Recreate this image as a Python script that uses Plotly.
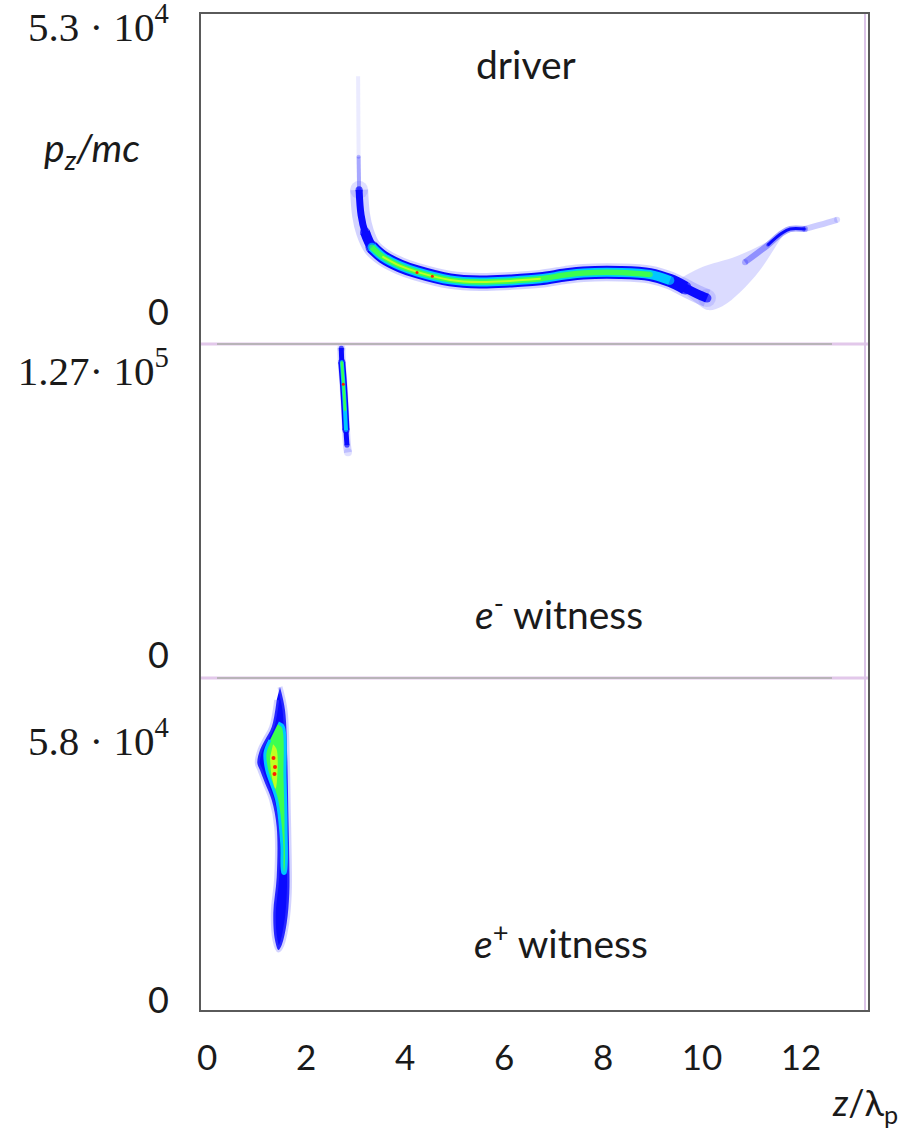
import plotly.graph_objects as go

# ---------------- data ----------------
x_ticks = [0, 2, 4, 6, 8, 10, 12]
x_ticktext = ["0", "2", "4", "6", "8", "10", "12"]

# panel y ticks
top_ticks = [0, 53000]
mid_ticks = [0, 127000]
bot_ticks = [0, 58000]

# driver: ridge of the dense band (z/lambda_p, pz/mc)
driver_z = [3.07, 3.11, 3.19, 3.33, 3.55, 3.90, 4.24, 4.91, 5.51, 6.12, 6.73,
            7.23, 7.60, 8.34, 8.95, 9.35, 9.66, 9.90, 10.10]
driver_pz = [22800, 18100, 14900, 12100, 10300, 8600, 7500, 6000, 5600, 5800, 6200,
             6900, 7300, 7400, 7000, 5900, 4500, 3400, 2600]
# faint vertical spike above the knee
spike_z = [3.05, 3.055, 3.06, 3.07]
spike_pz = [44000, 36000, 29000, 22800]
# diffuse fan behind the dip
fan_z = [9.45, 9.96, 10.71, 11.31, 11.68, 11.52, 11.17, 10.77, 10.41, 10.12, 9.86, 9.56]
fan_pz = [5600, 8200, 10450, 13060, 15100, 12700, 7800, 3700, 1100, 370, 1870, 4100]
# rising tail
rise_z = [10.87, 11.33, 11.61, 11.78, 12.08]
rise_pz = [9300, 12500, 14700, 15500, 15500]
tail_z = [12.08, 12.40, 12.73]
tail_pz = [15500, 16300, 17200]
driver_hot_z = [4.24, 4.55]
driver_hot_pz = [7400, 6700]

# e- witness
em_z = [2.71, 2.72, 2.755, 2.785, 2.805, 2.825, 2.845]
em_pz = [137800, 131500, 121200, 110000, 101000, 94200, 91000]
em_hot_z = [2.75]
em_hot_pz = [121600]

# e+ witness outlines
ep_blue_z = [1.471, 1.572, 1.619, 1.639, 1.659, 1.659, 1.607, 1.506, 1.441, 1.370,
             1.336, 1.405, 1.405, 1.304, 1.168, 1.067, 1.013, 1.067, 1.168, 1.304, 1.405]
ep_blue_pz = [70360, 65190, 53950, 42710, 31470, 24050, 17310, 12360, 11240, 13490,
              19560, 27650, 38890, 44960, 48780, 51700, 53280, 56200, 58450, 61370, 67440]
ep_green_z = [1.437, 1.538, 1.572, 1.593, 1.572, 1.532, 1.506, 1.405, 1.203, 1.168, 1.269]
ep_green_pz = [62270, 61370, 50130, 38890, 28550, 28550, 35290, 44960, 51700, 55520, 58450]
ep_yellow_z = [1.33, 1.40, 1.42, 1.38, 1.30, 1.27]
ep_yellow_pz = [57500, 56500, 51000, 47500, 50500, 54500]
ep_hot_z = [1.34, 1.37, 1.36]
ep_hot_pz = [54400, 52400, 50800]

# ---------------- figure ----------------
SANS = "Lato"
SERIF = "Liberation Serif"
BLUE = "#0a0aff"
HALO = "rgba(110,110,255,0.30)"
CYAN = "#00c8ff"
GREEN = "#3cff50"
YEL = "#c0ff20"
RED = "#ff2000"

fig = go.Figure()


def line(z, pz, color, width, ax, caps=True):
    n = len(z)
    sizes = [0] * n
    if caps:
        sizes[0] = width
        sizes[-1] = width
    fig.add_trace(go.Scatter(x=z, y=pz, mode="lines+markers", xaxis=ax[0], yaxis=ax[1],
                             line=dict(color=color, width=width, shape="spline"),
                             marker=dict(size=sizes, color=color, line=dict(width=0)),
                             hoverinfo="skip", showlegend=False))


def poly(z, pz, fill, ax, lcolor="rgba(0,0,0,0)", lwidth=0):
    fig.add_trace(go.Scatter(x=z, y=pz, mode="lines", fill="toself", fillcolor=fill,
                             xaxis=ax[0], yaxis=ax[1],
                             line=dict(color=lcolor, width=lwidth, shape="spline"),
                             hoverinfo="skip", showlegend=False))


def dots(z, pz, color, size, ax):
    fig.add_trace(go.Scatter(x=z, y=pz, mode="markers", xaxis=ax[0], yaxis=ax[1],
                             marker=dict(color=color, size=size, line=dict(width=0)),
                             hoverinfo="skip", showlegend=False))


TOP = ("x", "y")
MID = ("x2", "y2")
BOT = ("x3", "y3")

# driver
line(spike_z[:3], spike_pz[:3], "rgba(120,120,255,0.15)", 4, TOP, caps=False)
line(spike_z[2:], spike_pz[2:], "rgba(80,80,255,0.5)", 4, TOP)
poly(fan_z, fan_pz, "rgba(110,110,255,0.25)", TOP)
line(tail_z, tail_pz, "rgba(110,110,255,0.35)", 6, TOP)
line(rise_z, rise_pz, "rgba(70,70,255,0.5)", 6, TOP)
line(rise_z[1:], rise_pz[1:], BLUE, 3, TOP)
line(driver_z, driver_pz, HALO, 18, TOP)
line(driver_z[:4], driver_pz[:4], BLUE, 7, TOP)
line(driver_z[2:6], driver_pz[2:6], BLUE, 10, TOP)
line(driver_z[15:], driver_pz[15:], BLUE, 9, TOP)
line(driver_z[3:17], driver_pz[3:17], BLUE, 13, TOP)
line(driver_z[3:16], driver_pz[3:16], CYAN, 9, TOP)
line(driver_z[3:15], driver_pz[3:15], GREEN, 5.5, TOP)
line(driver_z[4:11], driver_pz[4:11], YEL, 2, TOP)
dots(driver_hot_z, driver_hot_pz, RED, 3, TOP)

# e- witness
line(em_z, em_pz, HALO, 8, MID)
line(em_z[:6], em_pz[:6], BLUE, 5, MID)
line(em_z[1:5], em_pz[1:5], BLUE, 7, MID)
line(em_z[1:5], em_pz[1:5], CYAN, 4, MID)
line(em_z[1:4], em_pz[1:4], GREEN, 2.5, MID)
dots(em_hot_z, em_hot_pz, RED, 3, MID)

# e+ witness
poly(ep_blue_z, ep_blue_pz, BLUE, BOT, HALO, 5)
poly(ep_green_z, ep_green_pz, GREEN, BOT, CYAN, 3)
poly(ep_yellow_z, ep_yellow_pz, YEL, BOT)
dots(ep_hot_z, ep_hot_pz, RED, 4, BOT)

# ---------------- layout ----------------
XR = [-0.1455, 13.375]
D_TOP = [0.6683, 1.0]
D_MID = [0.3337, 0.6683]
D_BOT = [0.0, 0.3337]

xcommon = dict(range=XR, showgrid=False, zeroline=False, showline=False,
               tickvals=x_ticks, ticktext=x_ticktext, automargin=False,
               ticklabeloverflow="allow")
ycommon = dict(showgrid=False, zeroline=False, showline=False, ticks="outside",
               ticklen=23, tickcolor="rgba(0,0,0,0)", automargin=False,
               ticklabeloverflow="allow",
               tickfont=dict(family=SANS, size=36, color="#1a1a1a"))


def sci(mant, exp):
    return ('<span style="font-family:\'%s\';font-size:41px">%s10<sup>%d</sup></span>'
            % (SERIF, mant, exp))


fig.update_layout(
    width=905, height=1130, autosize=False,
    margin=dict(l=200, r=36, t=13, b=119, autoexpand=False),
    paper_bgcolor="white", plot_bgcolor="white",
    showlegend=False,
    xaxis=dict(**xcommon, anchor="y", showticklabels=False, ticks=""),
    xaxis2=dict(**xcommon, anchor="y2", showticklabels=False, ticks="", matches="x"),
    xaxis3=dict(**xcommon, anchor="y3", matches="x", ticks="outside", ticklen=16,
                tickcolor="rgba(0,0,0,0)",
                tickfont=dict(family=SANS, size=35, color="#1a1a1a")),
    yaxis=dict(**ycommon, domain=D_TOP, anchor="x", range=[-5970, 55800],
               tickvals=top_ticks, ticktext=["0", sci("5.3 · ", 4)]),
    yaxis2=dict(**ycommon, domain=D_MID, anchor="x2", range=[-10320, 139600],
                tickvals=mid_ticks, ticktext=["0", sci("1.27· ", 5)]),
    yaxis3=dict(**ycommon, domain=D_BOT, anchor="x3", range=[-2470, 72390],
                tickvals=bot_ticks, ticktext=["0", sci("5.8 · ", 4)]),
)


def px_x(p):
    return (p - 200) / 669.0


def px_y(p):
    return (1011 - p) / 998.0


shapes = [
    dict(type="line", xref="paper", yref="paper", x0=0, x1=1, y0=D_TOP[0], y1=D_TOP[0],
         line=dict(color="#e2c8ea", width=3)),
    dict(type="line", xref="paper", yref="paper", x0=0, x1=1, y0=D_MID[0], y1=D_MID[0],
         line=dict(color="#e2c8ea", width=3)),
    dict(type="line", xref="paper", yref="paper", x0=px_x(217), x1=px_x(832),
         y0=D_TOP[0], y1=D_TOP[0], line=dict(color="#b8b4b8", width=2)),
    dict(type="line", xref="paper", yref="paper", x0=px_x(217), x1=px_x(832),
         y0=D_MID[0], y1=D_MID[0], line=dict(color="#b8b4b8", width=2)),
    dict(type="line", xref="paper", yref="paper", x0=px_x(865), x1=px_x(865),
         y0=0, y1=1, line=dict(color="#dcc4e8", width=2)),
    dict(type="rect", xref="paper", yref="paper", x0=0, x1=1, y0=0, y1=1,
         line=dict(color="#5a5a5a", width=2), fillcolor="rgba(0,0,0,0)"),
]
fig.update_layout(shapes=shapes)

ann_font = dict(family=SANS, size=39, color="#1a1a1a")
annotations = [
    dict(text="driver", x=px_x(526), y=px_y(64), xanchor="center"),
    dict(text="<i>e</i><sup>-</sup> witness", x=px_x(559), y=px_y(611), xanchor="center"),
    dict(text="<i>e</i><sup>+</sup> witness", x=px_x(561), y=px_y(940), xanchor="center"),
    dict(text="<i>p<sub>z</sub>/mc</i>", x=px_x(92), y=px_y(150), xanchor="center"),
    dict(text="<i>z</i>/λ<sub>p</sub>", x=px_x(900), y=px_y(1104), xanchor="right",
         font=dict(family=SANS, size=36, color="#1a1a1a")),
]
for a in annotations:
    a.update(xref="paper", yref="paper", showarrow=False, yanchor="middle")
    a.setdefault("font", ann_font)
fig.update_layout(annotations=annotations)

fig.write_html("out.html")
